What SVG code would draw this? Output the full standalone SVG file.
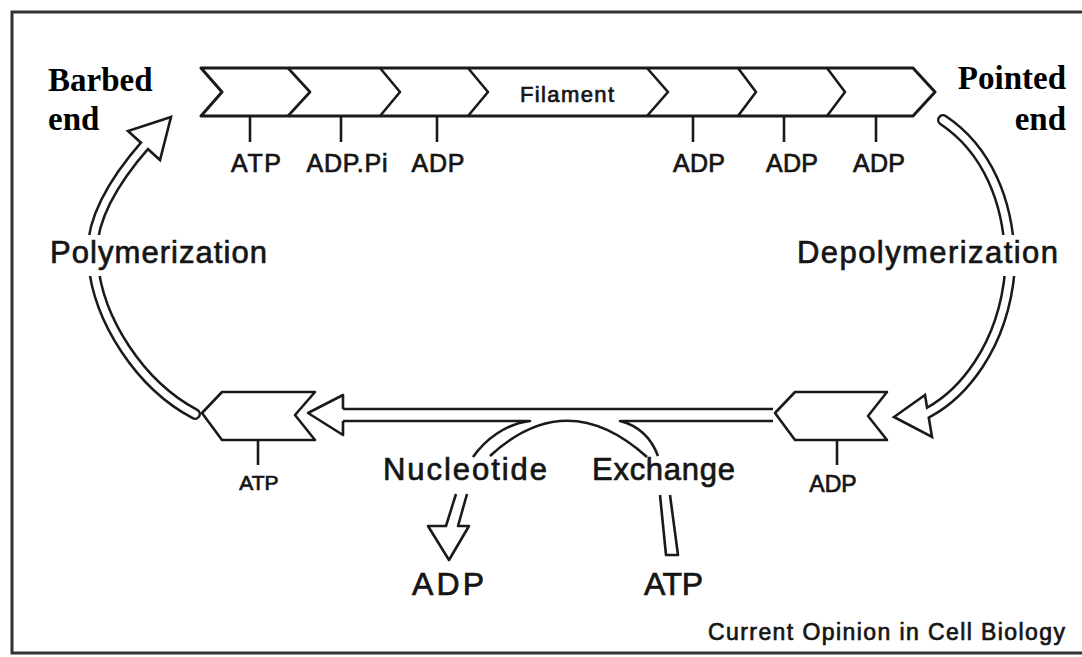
<svg xmlns="http://www.w3.org/2000/svg" width="1082" height="657" viewBox="0 0 1082 657">
<style>
.ln{fill:none;stroke:#1a1a1a;stroke-width:2.6;stroke-linejoin:round}
.fil{fill:#fff;stroke:#1a1a1a;stroke-width:3;stroke-linejoin:round}
.mono{fill:#fff;stroke:#1a1a1a;stroke-width:2.6;stroke-linejoin:round}
.tick{stroke:#1a1a1a;stroke-width:2.6}
.bo{fill:none;stroke:#1a1a1a;stroke-width:12;stroke-linecap:round}
.bi{fill:none;stroke:#fff;stroke-width:7;stroke-linecap:round}
.head{fill:#fff;stroke:#1a1a1a;stroke-width:2.6;stroke-linejoin:miter}
.sans{font-family:"Liberation Sans",Arial,Helvetica,sans-serif;fill:#151515;stroke:#151515;stroke-width:0.7}
.serif{font-family:"Liberation Serif","Times New Roman",serif;font-weight:bold;fill:#000}
</style>
<rect width="1082" height="657" fill="#fff"/>
<path d="M1082 12 H12 V653 H1082" fill="none" stroke="#333" stroke-width="3"/>

<g id="filament">
<path class="fil" d="M201 68 H913 L935 92 L913 116 H201 L222 92 Z"/>
<path class="ln" d="M288 68 L310 92 L288 116 M380 68 L400 92 L380 116 M468 68 L488 92 L468 116 M647 68 L668 92 L647 116 M738 68 L756 92 L738 116 M827 68 L845 92 L827 116"/>
<text class="sans" x="520" y="102" font-size="22" stroke-width="0.5" textLength="94">Filament</text>
<path class="tick" d="M250 116 V142 M341 116 V142 M437 116 V142 M693 116 V142 M784 116 V142 M876 116 V142"/>
<g class="sans" font-size="25" text-anchor="middle">
<text x="256" y="172" textLength="50">ATP</text>
<text x="347" y="172" textLength="81">ADP.Pi</text>
<text x="438" y="172" textLength="53">ADP</text>
<text x="699" y="172" textLength="52">ADP</text>
<text x="792" y="172" textLength="52">ADP</text>
<text x="879" y="172" textLength="52">ADP</text>
</g>
</g>

<g id="barbed-end">
<text class="serif" x="48" y="91" font-size="33">Barbed</text>
<text class="serif" x="48" y="130" font-size="33">end</text>
</g>
<g id="pointed-end">
<text class="serif" x="1066" y="89" font-size="33" text-anchor="end">Pointed</text>
<text class="serif" x="1066" y="130" font-size="33" text-anchor="end">end</text>
</g>

<g id="monomer-atp">
<polygon class="mono" points="202,413 222,392 315,392 295,415 315,440 222,440"/>
<line class="tick" x1="258" y1="440" x2="258" y2="465"/>
<text class="sans" x="259" y="490" font-size="21" text-anchor="middle">ATP</text>
</g>

<g id="monomer-adp">
<polygon class="mono" points="775,413 795,392 887,392 868,416 887,440 795,440"/>
<line class="tick" x1="837" y1="440" x2="837" y2="465"/>
<text class="sans" x="833" y="492" font-size="23" text-anchor="middle">ADP</text>
</g>

<g id="connectors">
<g id="polymerization">
<path class="bo" d="M152 138 L146 144 C110 185 88 225 93 262 C98 320 140 385 195 414"/>
<polygon class="head" points="171,117 128,131 160,160"/>
<path class="bi" d="M151 139 L146 144 C110 185 88 225 93 262 C98 320 140 385 195 414"/>
<rect x="46" y="235" width="226" height="41" fill="#fff"/>
<text class="sans" x="50" y="263" font-size="31" textLength="217">Polymerization</text>
</g>
<g id="depolymerization">
<path class="bo" d="M921 417 L929 412 C960 395 1003 350 1010 270 C1011 200 985 148 943 120"/>
<polygon class="head" points="894,417 925,395 932,437"/>
<path class="bi" d="M922 416 L929 412 C960 395 1003 350 1010 270 C1011 200 985 148 943 120"/>
<rect x="793" y="235" width="272" height="41" fill="#fff"/>
<text class="sans" x="797" y="263" font-size="31" textLength="261">Depolymerization</text>
</g>
<g id="monomer-flow">
<path class="ln" d="M343 409 H773"/>
<path class="ln" d="M343 421 H530 C505 424 485 440 473 457"/>
<path class="ln" d="M773 421 H620 C640 426 652 440 658 456"/>
<path class="ln" d="M490 456 Q567 385 647 457"/>
<path class="ln" d="M343 409 V395 L308 413 L343 435 V421"/>
</g>
<g id="exchange">
<text class="sans" x="383" y="480" font-size="31" textLength="164">Nucleotide</text>
<text class="sans" x="592" y="480" font-size="31" textLength="143">Exchange</text>
<path class="ln" d="M456 494 L446 526 H428 L449 560 L469 526 H458 L467 494"/>
<path class="ln" d="M660 495 L666 555 H678 L670 495"/>
<text class="sans" x="412" y="595" font-size="32" textLength="72">ADP</text>
<text class="sans" x="644" y="595" font-size="32" textLength="59">ATP</text>
</g>
</g>

<text class="sans" x="708" y="640" font-size="23" textLength="357">Current Opinion in Cell Biology</text>
</svg>
